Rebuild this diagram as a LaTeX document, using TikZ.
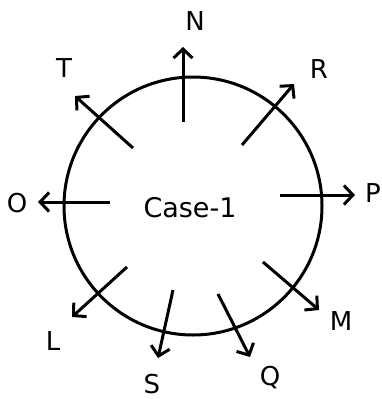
\documentclass[tikz,border=0pt]{standalone}
\usepackage{fontspec}
\setmainfont{DejaVu Sans}
\usetikzlibrary{arrows.meta}
\tikzset{
    dirarrow/.style={line width=3pt, -{Straight Barb[length=9pt, width=19pt]}},
    dirlabel/.style={font=\fontsize{26}{30}\selectfont, inner sep=0pt}
}

\begin{document}
\begin{tikzpicture}[x=1pt, y=-1pt]
        \useasboundingbox (0, 0) rectangle (381, 399);
        \draw[line width=3pt] (193, 206) circle[radius=129pt];
        \node[dirlabel, font=\fontsize{27}{30}\selectfont] (case) at (190, 208) {Case-1};

        % tails and heads of the arrows
        \coordinate (Ntail) at (183, 122); \coordinate (Nhead) at (183, 47);
        \coordinate (Ttail) at (133, 148); \coordinate (Thead) at (75, 96);
        \coordinate (Rtail) at (242, 145); \coordinate (Rhead) at (294, 84);
        \coordinate (Ptail) at (280, 195); \coordinate (Phead) at (355, 195);
        \coordinate (Otail) at (110, 202); \coordinate (Ohead) at (38, 202);
        \coordinate (Ltail) at (127, 267); \coordinate (Lhead) at (72, 317);
        \coordinate (Stail) at (173, 290); \coordinate (Shead) at (158, 358);
        \coordinate (Qtail) at (218, 294); \coordinate (Qhead) at (250, 357);
        \coordinate (Mtail) at (263, 262); \coordinate (Mhead) at (319, 310);

        \draw[dirarrow] (Ntail) -- (Nhead);
        \draw[dirarrow] (Ttail) -- (Thead);
        \draw[dirarrow] (Rtail) -- (Rhead);
        \draw[dirarrow] (Ptail) -- (Phead);
        \draw[dirarrow] (Otail) -- (Ohead);
        \draw[dirarrow] (Ltail) -- (Lhead);
        \draw[dirarrow] (Stail) -- (Shead);
        \draw[dirarrow] (Qtail) -- (Qhead);
        \draw[dirarrow] (Mtail) -- (Mhead);

        % labels
        \node[dirlabel] (N) at (195, 21) {N};
        \node[dirlabel] (T) at (64, 68) {T};
        \node[dirlabel] (R) at (319, 69) {R};
        \node[dirlabel] (P) at (373, 193) {P};
        \node[dirlabel] (O) at (17, 203) {O};
        \node[dirlabel] (L) at (53, 341) {L};
        \node[dirlabel] (S) at (152, 384) {S};
        \node[dirlabel] (Q) at (270, 378) {Q};
        \node[dirlabel] (M) at (341, 321) {M};
    \end{tikzpicture}
\end{document}
